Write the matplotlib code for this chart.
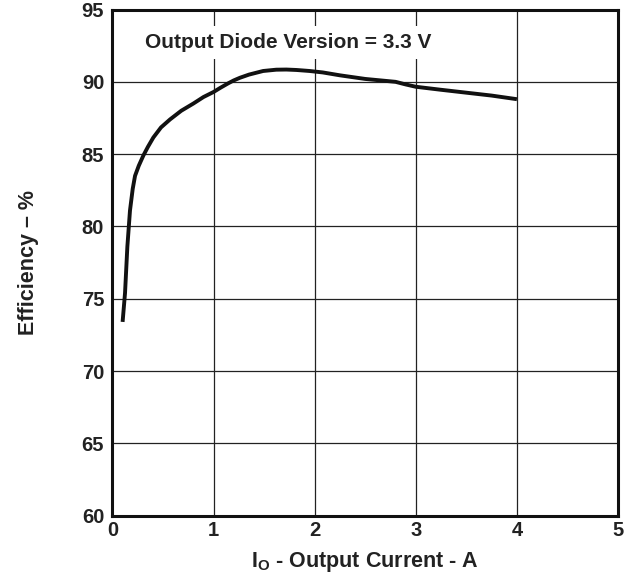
import matplotlib
matplotlib.use("Agg")
import matplotlib.pyplot as plt

plt.rcParams['font.family'] = ['Liberation Sans', 'DejaVu Sans']
plt.rcParams['font.weight'] = 'bold'
plt.rcParams['mathtext.fontset'] = 'custom'
plt.rcParams['mathtext.rm'] = 'Liberation Sans:bold'
plt.rcParams['mathtext.it'] = 'Liberation Sans:bold'
plt.rcParams['mathtext.bf'] = 'Liberation Sans:bold'

# Efficiency vs output current
current_a = [0.10, 0.124, 0.147, 0.173, 0.20, 0.223, 0.26, 0.305, 0.35, 0.404,
             0.48, 0.569, 0.68, 0.80, 0.90, 1.0, 1.07, 1.145, 1.20, 1.26,
             1.35, 1.49, 1.62, 1.72, 1.82, 1.95, 2.08, 2.25, 2.5, 2.65,
             2.8, 2.9, 3.0, 3.25, 3.5, 3.75, 4.0]
efficiency_pct = [73.4, 75.4, 78.6, 81.1, 82.6, 83.5, 84.2, 84.9, 85.5, 86.15,
                  86.85, 87.4, 88.0, 88.5, 88.95, 89.3, 89.6, 89.9, 90.1, 90.28,
                  90.5, 90.75, 90.84, 90.85, 90.82, 90.75, 90.65, 90.45, 90.2, 90.1,
                  90.0, 89.82, 89.66, 89.45, 89.25, 89.05, 88.8]

x_ticks = [0, 1, 2, 3, 4, 5]
y_ticks = [60, 65, 70, 75, 80, 85, 90, 95]

fig = plt.figure(figsize=(6.26, 5.81), dpi=100)
ax = fig.add_axes([0.1797, 0.1124, 0.8075, 0.8712])

ax.plot(current_a, efficiency_pct, color='#111111', lw=2.8,
        solid_joinstyle='round', solid_capstyle='butt', zorder=3)

ax.set_xlim(0, 5)
ax.set_ylim(60, 95)
ax.set_xticks(x_ticks)
ax.set_yticks(y_ticks)
ax.tick_params(length=0, labelsize=14.5, colors='#222222')
ax.tick_params(axis='y', pad=6)
ax.tick_params(axis='x', pad=4)
ax.grid(True, color='#222222', lw=0.9)
ax.set_axisbelow(True)
for s in ax.spines.values():
    s.set_linewidth(2.2)
    s.set_color('#111111')
    s.set_zorder(4)

ax.text(0.32, 92.72, 'Output Diode Version = 3.3 V', fontsize=15,
        fontweight='bold', color='#222222', va='center', ha='left',
        bbox=dict(facecolor='white', edgecolor='none', pad=5), zorder=2)

ax.set_xlabel(r'I$_{\mathrm{O}}$ - Output Current - A', fontsize=15.5,
              fontweight='bold', color='#222222')
ax.set_ylabel('Efficiency – %', fontsize=15.5, fontweight='bold',
              color='#222222')
ax.xaxis.set_label_coords(0.5, -0.068)
ax.yaxis.set_label_coords(-0.146, 0.5)

fig.savefig('out.png', dpi=100)
